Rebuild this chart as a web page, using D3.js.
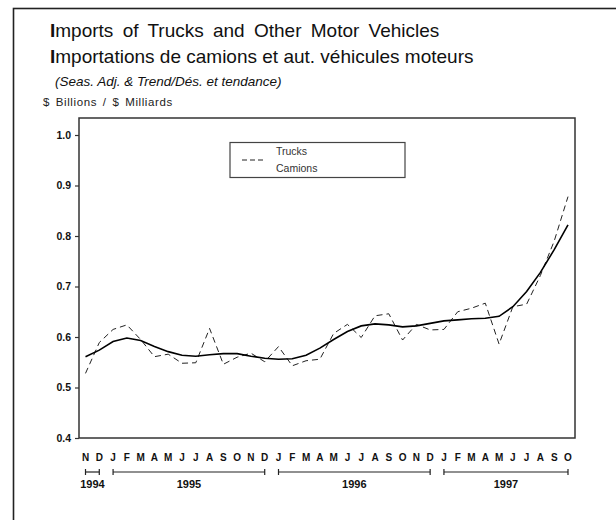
<!DOCTYPE html>
<html>
<head>
<meta charset="utf-8">
<script src="https://cdn.jsdelivr.net/npm/d3@7"></script>
<style>
  body { margin: 0; background: #fff; }
  svg { display: block; font-family: "Liberation Sans", Arial, sans-serif; }
</style>
</head>
<body>
<div id="chart"></div>
<script>
// monthly data, Nov 1994 .. Oct 1997 ($ billions)
const startMonth = new Date(1994, 10, 1)
const endMonth = new Date(1997, 10, 1)
const trucks = [0.528, 0.589, 0.615, 0.624, 0.595, 0.561, 0.566, 0.548, 0.549, 0.617, 0.546, 0.560,
  0.568, 0.551, 0.581, 0.543, 0.553, 0.556, 0.607, 0.625, 0.599, 0.642, 0.646, 0.594,
  0.625, 0.614, 0.615, 0.650, 0.657, 0.667, 0.586, 0.660, 0.665, 0.722, 0.790, 0.878]
const trend = [0.561, 0.574, 0.591, 0.598, 0.593, 0.581, 0.571, 0.564, 0.562, 0.565, 0.567, 0.567,
  0.562, 0.558, 0.556, 0.557, 0.564, 0.578, 0.595, 0.611, 0.622, 0.626, 0.624, 0.620,
  0.622, 0.627, 0.632, 0.634, 0.636, 0.637, 0.641, 0.660, 0.690, 0.728, 0.773, 0.822]
const yTicks = [0.4, 0.5, 0.6, 0.7, 0.8, 0.9, 1.0]
const legendLabels = ['Trucks', 'Camions']

const W = 616, H = 520
const plot = { left: 79, right: 575, top: 118, bottom: 438 }

const months = d3.timeMonths(startMonth, endMonth)

const svg = d3.select('#chart').append('svg')
  .attr('width', W)
  .attr('height', H)

// outer frame (only top / left visible)
svg.append('rect')
  .attr('x', 13.5).attr('y', 8.5)
  .attr('width', W + 20).attr('height', H + 20)
  .attr('fill', 'none')
  .attr('stroke', '#222')
  .attr('stroke-width', 1.6)

// titles
const t1 = svg.append('text').attr('x', 50).attr('y', 37)
  .style('font-size', '19px').style('word-spacing', '4px').attr('fill', '#111')
t1.append('tspan').style('font-weight', 'bold').text('I')
t1.append('tspan').text('mports of Trucks and Other Motor Vehicles')

const t2 = svg.append('text').attr('x', 50).attr('y', 63)
  .style('font-size', '19px').attr('fill', '#111')
t2.append('tspan').style('font-weight', 'bold').text('I')
t2.append('tspan').text('mportations de camions et aut. véhicules moteurs')

svg.append('text').attr('x', 55).attr('y', 86)
  .style('font-size', '13.5px').style('font-style', 'italic').attr('fill', '#111')
  .text('(Seas. Adj. & Trend/Dés. et tendance)')

svg.append('text').attr('x', 43).attr('y', 106)
  .style('font-size', '11.5px').style('letter-spacing', '0.6px').style('word-spacing', '2px')
  .attr('fill', '#222')
  .text('$ Billions / $ Milliards')

// scales
const x = d3.scaleLinear().domain([0, months.length - 1]).range([85.5, 568])
const y = d3.scaleLinear().domain([0.4, 1.0]).range([plot.bottom, 135])

// plot frame
svg.append('rect')
  .attr('x', plot.left).attr('y', plot.top)
  .attr('width', plot.right - plot.left).attr('height', plot.bottom - plot.top)
  .attr('fill', 'none').attr('stroke', '#333').attr('stroke-width', 1.5)

// y axis
const yAxis = svg.append('g')
  .attr('transform', `translate(${plot.left},0)`)
  .call(d3.axisLeft(y).tickValues(yTicks).tickFormat(d3.format('.1f')).tickSize(4).tickPadding(4))
yAxis.select('.domain').remove()
yAxis.selectAll('line').attr('stroke', '#333').attr('stroke-width', 1.2)
yAxis.selectAll('text')
  .style('font-size', '10.5px').style('font-weight', 'bold')
  .style('font-family', '"Liberation Sans", Arial, sans-serif').attr('fill', '#111')

// month letters
const fmt = d3.timeFormat('%b')
svg.append('g').selectAll('text')
  .data(months).enter().append('text')
  .attr('x', (d, i) => x(i))
  .attr('y', 461)
  .attr('text-anchor', 'middle')
  .style('font-size', '10px').style('font-weight', 'bold').attr('fill', '#111')
  .text(d => fmt(d)[0])

// year spans
const years = d3.groups(months.map((d, i) => ({ d, i })), e => e.d.getFullYear())
const yg = svg.append('g')
years.forEach(([yr, list]) => {
  const a = x(list[0].i), b = x(list[list.length - 1].i)
  yg.append('line').attr('x1', a).attr('x2', b).attr('y1', 472).attr('y2', 472)
    .attr('stroke', '#222').attr('stroke-width', 1.2)
  yg.append('line').attr('x1', a).attr('x2', a).attr('y1', 469).attr('y2', 475)
    .attr('stroke', '#222').attr('stroke-width', 1.2)
  yg.append('line').attr('x1', b).attr('x2', b).attr('y1', 469).attr('y2', 475)
    .attr('stroke', '#222').attr('stroke-width', 1.2)
  yg.append('text').attr('x', (a + b) / 2).attr('y', 488)
    .attr('text-anchor', 'middle')
    .style('font-size', '11px').style('font-weight', 'bold').attr('fill', '#111')
    .text(yr)
})

// series
const line = d3.line().x((d, i) => x(i)).y(d => y(d))

svg.append('path')
  .datum(trucks)
  .attr('d', line)
  .attr('fill', 'none')
  .attr('stroke', '#222')
  .attr('stroke-width', 1)
  .attr('stroke-dasharray', '6,4')

svg.append('path')
  .datum(trend)
  .attr('d', line)
  .attr('fill', 'none')
  .attr('stroke', '#000')
  .attr('stroke-width', 1.6)

// legend
const lg = svg.append('g')
lg.append('rect').attr('x', 230).attr('y', 142.5).attr('width', 175).attr('height', 35)
  .attr('fill', '#fff').attr('stroke', '#444').attr('stroke-width', 1.2)
lg.append('line').attr('x1', 242).attr('x2', 264).attr('y1', 160).attr('y2', 160)
  .attr('stroke', '#222').attr('stroke-width', 1).attr('stroke-dasharray', '5,3')
lg.selectAll('text.lab')
  .data(legendLabels).enter().append('text')
  .attr('class', 'lab')
  .attr('x', 276)
  .attr('y', (d, i) => 154.5 + i * 17)
  .style('font-size', '10.5px').attr('fill', '#333')
  .text(d => d)
</script>
</body>
</html>
